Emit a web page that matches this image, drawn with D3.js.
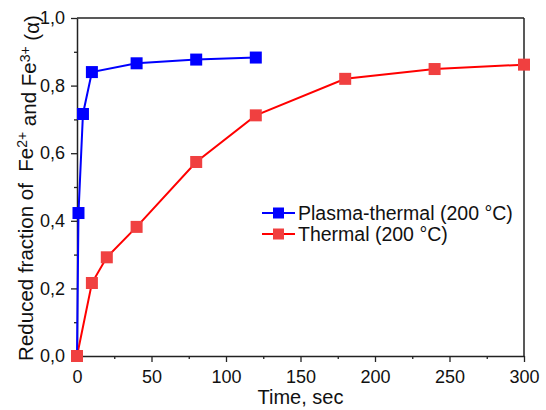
<!DOCTYPE html>
<html>
<head>
<meta charset="utf-8">
<script src="https://cdn.jsdelivr.net/npm/d3@7"></script>
<style>
  html, body { margin: 0; padding: 0; background: #fff; }
  svg { display: block; font-family: "Liberation Sans", Arial, sans-serif; }
</style>
</head>
<body>
<svg id="chart" width="546" height="410"></svg>
<script>
// Reduction kinetics: time (s) vs reduced fraction α
const plasmaTime = [0, 1, 4, 10, 40, 80, 120];
const plasmaAlpha = [0, 0.423, 0.716, 0.84, 0.866, 0.877, 0.883];
const thermalTime = [0, 10, 20, 40, 80, 120, 180, 240, 300];
const thermalAlpha = [0, 0.216, 0.292, 0.382, 0.574, 0.712, 0.82, 0.849, 0.862];
const seriesNames = ["Plasma-thermal (200 °C)", "Thermal (200 °C)"];
const xTicks = [0, 50, 100, 150, 200, 250, 300];
const yTicks = [0, 0.2, 0.4, 0.6, 0.8, 1.0];

const W = 546, H = 410;
const m = { left: 77, top: 18, right: 22, bottom: 54 };
const iw = W - m.left - m.right, ih = H - m.top - m.bottom;

const svg = d3.select("#chart");
const g = svg.append("g").attr("transform", `translate(${m.left},${m.top})`);

const x = d3.scaleLinear().domain([0, 300]).range([0, iw]);
const y = d3.scaleLinear().domain([0, 1]).range([ih, 0]);
const fmt = d => d3.format(".1f")(d).replace(".", ",");

const axisColor = "#222";

// minor ticks
g.append("g").attr("transform", `translate(0,${ih})`)
  .call(d3.axisBottom(x).tickValues(d3.range(25, 300, 50)).tickSize(3).tickFormat(""))
  .call(a => a.select(".domain").remove())
  .selectAll("line").attr("stroke", axisColor).attr("stroke-width", 1.3);
g.append("g")
  .call(d3.axisLeft(y).tickValues(d3.range(0.1, 1, 0.2)).tickSize(3).tickFormat(""))
  .call(a => a.select(".domain").remove())
  .selectAll("line").attr("stroke", axisColor).attr("stroke-width", 1.3);

// major axes
const xAxis = g.append("g").attr("transform", `translate(0,${ih})`)
  .call(d3.axisBottom(x).tickValues(xTicks).tickSize(6).tickPadding(8).tickSizeOuter(0));
const yAxis = g.append("g")
  .call(d3.axisLeft(y).tickValues(yTicks).tickFormat(fmt).tickSize(6).tickPadding(6).tickSizeOuter(0));
[xAxis, yAxis].forEach(a => {
  a.select(".domain").attr("stroke", axisColor).attr("stroke-width", 1.5);
  a.selectAll(".tick line").attr("stroke", axisColor).attr("stroke-width", 1.3);
  a.selectAll("text").attr("fill", "#111").style("font-size", "18px")
    .style("font-family", '"Liberation Sans", Arial, sans-serif');
});

// frame top and right
g.append("line").attr("x1", 0).attr("x2", iw).attr("y1", 0).attr("y2", 0)
  .attr("stroke", axisColor).attr("stroke-width", 1.5);
g.append("line").attr("x1", iw).attr("x2", iw).attr("y1", 0).attr("y2", ih)
  .attr("stroke", axisColor).attr("stroke-width", 1.5);

// series
const series = [
  { t: plasmaTime, a: plasmaAlpha, line: "#0000ff", fill: "#0000ff" },
  { t: thermalTime, a: thermalAlpha, line: "#ff0000", fill: "#f04040" }
];
const lineGen = d3.line().x(d => x(d[0])).y(d => y(d[1]));
const sq = 12;

// thermal line underneath, then plasma line; markers on top
series.slice().reverse().forEach(s => {
  const pts = s.t.map((t, i) => [t, s.a[i]]);
  g.append("path").datum(pts).attr("d", lineGen)
    .attr("fill", "none").attr("stroke", s.line).attr("stroke-width", 2);
});
series.forEach(s => {
  const pts = s.t.map((t, i) => [t, s.a[i]]);
  g.selectAll(null).data(pts).enter().append("rect")
    .attr("x", d => x(d[0]) - sq / 2).attr("y", d => y(d[1]) - sq / 2)
    .attr("width", sq).attr("height", sq).attr("fill", s.fill);
});

// legend
const lg = svg.append("g").attr("transform", "translate(262,213)");
series.forEach((s, i) => {
  const row = lg.append("g").attr("transform", `translate(0,${i * 21})`);
  row.append("line").attr("x1", 0).attr("x2", 33).attr("y1", 0).attr("y2", 0)
    .attr("stroke", s.line).attr("stroke-width", 2);
  row.append("rect").attr("x", 16.5 - 5.5).attr("y", -5.5).attr("width", 11).attr("height", 11)
    .attr("fill", s.fill);
  row.append("text").attr("x", 36).attr("y", 7).text(seriesNames[i])
    .style("font-size", "19.5px").attr("fill", "#111");
});

// axis titles
svg.append("text").attr("x", m.left + iw / 2).attr("y", 404).attr("text-anchor", "middle")
  .style("font-size", "20px").attr("fill", "#111").text("Time, sec");

const yt = svg.append("text")
  .attr("transform", `translate(33,${m.top + ih / 2 + 1}) rotate(-90)`)
  .attr("text-anchor", "middle").style("font-size", "20.5px").attr("fill", "#111");
yt.append("tspan").text("Reduced fraction of\u00A0 Fe");
yt.append("tspan").attr("dy", "-0.45em").style("font-size", "14px").text("2+");
yt.append("tspan").attr("dy", "0.45em").text(" and Fe");
yt.append("tspan").attr("dy", "-0.45em").style("font-size", "14px").text("3+");
yt.append("tspan").attr("dy", "0.45em").text(" (α)");
</script>
</body>
</html>
